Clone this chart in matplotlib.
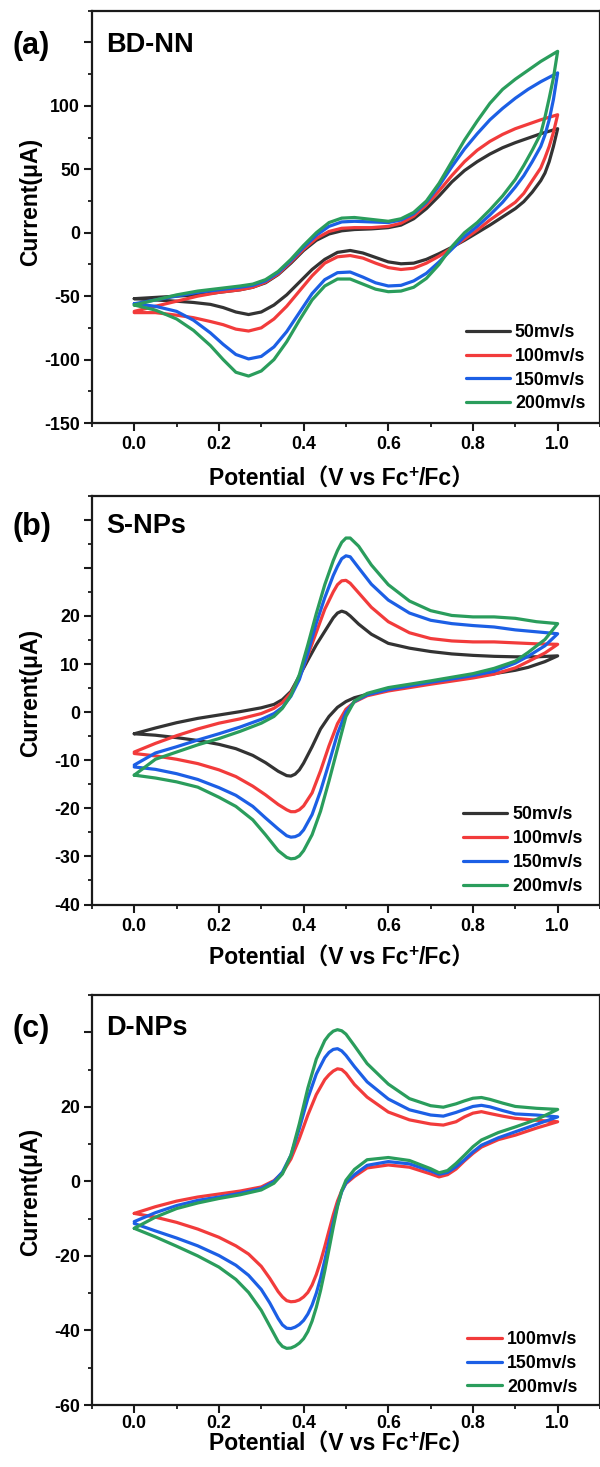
import matplotlib
matplotlib.use("Agg")
import matplotlib.pyplot as plt
from matplotlib.ticker import FixedLocator, FuncFormatter, MultipleLocator

plt.rcParams['font.family'] = ['Liberation Sans', 'Noto Sans CJK SC', 'DejaVu Sans']
plt.rcParams['font.weight'] = 'bold'

# ---------------- data ----------------
SCAN_LABELS = ["50mv/s", "100mv/s", "150mv/s", "200mv/s"]
SCAN_COLORS = ["#333333", "#f23b3b", "#1c5fe5", "#2a9d5c"]

# Panel (a) BD-NN
A_V_FWD = [0, 0.05, 0.1, 0.15, 0.2, 0.25, 0.28, 0.31, 0.34, 0.37, 0.4, 0.43, 0.46, 0.49,
           0.52, 0.56, 0.6, 0.63, 0.66, 0.69, 0.72, 0.75, 0.78, 0.81, 0.84, 0.87, 0.9, 0.93,
           0.96, 1.0]
A_50_FWD = [-52, -51, -50, -49, -47, -45, -43, -39.5, -33, -24, -14, -6, -1, 1.5, 2.5, 3, 4,
            6, 11, 19, 29, 40, 49, 56, 62, 67, 71, 74.5, 78, 82]
A_100_FWD = [-62, -58, -54, -50, -47, -45, -43, -39, -32.5, -23, -13, -4.5, 1, 3.5, 4, 4, 5,
             7.5, 13, 22, 33, 45, 56, 65, 72, 77.5, 82, 85.5, 89, 93]
A_150_FWD = [-56, -53, -50, -47, -45, -43, -41.5, -38, -31.5, -22, -11.5, -2, 5, 8.5, 9, 8.5,
             8, 10, 15, 24, 37, 52, 66, 78, 89, 98, 106, 113, 119, 126]
A_200_FWD = [-57, -53, -49, -46, -44, -42, -40.5, -37, -30.5, -21, -10, 0, 8, 11.5, 12, 10.5,
             9, 11, 16, 25, 39, 56, 73, 88, 102, 113, 121, 128, 135, 143]
A_V_REV = [1.0, 0.99, 0.98, 0.97, 0.96, 0.94, 0.92, 0.9, 0.87, 0.84, 0.81, 0.78, 0.75, 0.72,
           0.69, 0.66, 0.63, 0.6, 0.57, 0.54, 0.51, 0.48, 0.45, 0.42, 0.39, 0.36, 0.33, 0.3,
           0.27, 0.24, 0.21, 0.18, 0.14, 0.1, 0.05, 0.0]
A_50_REV = [82, 68, 56, 47, 41, 32, 24.5, 19, 12.5, 6, 0, -6, -11.5, -16.5, -21, -24, -24.5,
            -23, -19.5, -16, -14, -15.5, -21, -29, -39, -49, -57, -62.5, -64.5, -62.5, -59,
            -56.5, -55, -54, -53, -52]
A_100_REV = [93, 79, 68, 59, 51, 41, 31, 24, 17, 10, 2, -5, -12, -18.5, -24, -28, -29, -27.5,
             -24, -20, -18, -19, -24, -34, -46, -58, -68, -75, -77.5, -76, -72.5, -70, -67,
             -65, -63, -63]
A_150_REV = [126, 105, 89, 77, 68, 56, 45, 36, 24, 14, 5, -3, -13, -23, -32, -38, -41.5, -42,
             -39.5, -35, -31, -31.5, -37, -48, -63, -78, -90, -97.5, -99.5, -96, -88, -79,
             -69, -62, -58, -56]
A_200_REV = [143, 122, 106, 91, 78, 65, 53, 42, 29, 18, 8, 0, -11, -25, -36, -43, -46, -46.5,
             -44.5, -40.5, -36.5, -36.5, -42, -53, -69, -86, -100, -109, -113, -110, -100,
             -89, -77, -68, -61, -57]

# Panel (b) S-NPs
B_V_FWD = [0, 0.05, 0.1, 0.15, 0.2, 0.25, 0.3, 0.33, 0.35, 0.37, 0.39, 0.41, 0.43, 0.45,
           0.47, 0.48, 0.49, 0.5, 0.51, 0.53, 0.56, 0.6, 0.65, 0.7, 0.75, 0.8, 0.85, 0.9,
           0.95, 1.0]
B_50_FWD = [-4.5, -3.3, -2.2, -1.3, -0.6, 0.1, 0.9, 1.6, 2.6, 4.3, 7.5, 10.8, 14.0, 16.8,
            19.6, 20.6, 21.0, 20.7, 20.0, 18.3, 16.2, 14.3, 13.3, 12.6, 12.1, 11.8, 11.6,
            11.5, 11.5, 11.7]
B_100_FWD = [-8.3, -6.5, -4.9, -3.5, -2.3, -1.4, -0.3, 0.8, 2.0, 4.0, 7.2, 11.8, 16.6, 21.4,
             25.0, 26.5, 27.3, 27.4, 26.8, 24.8, 21.8, 18.8, 16.5, 15.3, 14.8, 14.6, 14.6,
             14.4, 14.2, 14.1]
B_150_FWD = [-11, -8.5, -7.2, -5.8, -4.5, -3.1, -1.5, -0.3, 1.0, 3.3, 6.8, 12.3, 18.5, 23.8,
             28.4, 30.3, 31.9, 32.5, 32.3, 30.0, 26.6, 23.3, 20.6, 19.1, 18.4, 18.0, 17.7,
             17.1, 16.7, 16.3]
B_200_FWD = [-13.1, -9.8, -8.3, -6.8, -5.5, -4.0, -2.3, -0.9, 0.8, 3.5, 7.8, 14.0, 20.5,
             26.5, 31.5, 33.6, 35.3, 36.2, 36.2, 34.5, 30.6, 26.5, 23.1, 21.1, 20.1, 19.8,
             19.8, 19.5, 18.8, 18.4]
B_V_REV = [1.0, 0.97, 0.93, 0.9, 0.85, 0.8, 0.7, 0.6, 0.55, 0.52, 0.5, 0.48, 0.46, 0.44,
           0.42, 0.4, 0.39, 0.38, 0.37, 0.36, 0.34, 0.31, 0.28, 0.24, 0.2, 0.15, 0.1, 0.05,
           0.0]
B_50_REV = [11.7, 10.5, 9.3, 8.7, 8.0, 7.4, 6.1, 4.8, 3.7, 3.0, 2.2, 1.0, -0.9, -3.5, -7.2,
            -10.6, -12.0, -12.9, -13.3, -13.2, -12.3, -10.5, -9.0, -7.6, -6.7, -5.9, -5.3,
            -4.8, -4.5]
B_100_REV = [14.1, 12.3, 10.5, 9.2, 7.9, 7.1, 5.8, 4.4, 3.4, 2.1, 0.6, -2.4, -7.0, -12.2,
             -16.8, -19.5, -20.3, -20.7, -20.7, -20.3, -19.2, -17.2, -15.4, -13.4, -12.0,
             -10.7, -9.8, -9.1, -8.6]
B_150_REV = [16.3, 13.8, 11.6, 10.2, 8.5, 7.6, 6.2, 4.7, 3.6, 2.2, 0.0, -4.5, -10.6, -16.4,
             -21.3, -24.5, -25.5, -25.9, -26.0, -25.7, -24.3, -22.0, -19.6, -17.3, -15.7,
             -14.0, -12.8, -11.9, -11.4]
B_200_REV = [18.4, 15.1, 12.4, 10.6, 9.1, 8.0, 6.5, 5.1, 3.9, 2.3, -0.9, -7.6, -14.3, -20.6,
             -25.5, -28.8, -29.9, -30.4, -30.5, -30.2, -28.8, -25.5, -22.4, -19.6, -17.7,
             -15.6, -14.5, -13.7, -13.1]

# Panel (c) D-NPs
C_V_FWD = [0, 0.05, 0.1, 0.15, 0.2, 0.25, 0.3, 0.33, 0.35, 0.37, 0.39, 0.41, 0.43, 0.45,
           0.46, 0.47, 0.48, 0.49, 0.5, 0.52, 0.55, 0.6, 0.65, 0.7, 0.73, 0.76, 0.78, 0.8,
           0.82, 0.84, 0.87, 0.9, 0.95, 1.0]
C_100_FWD = [-8.6, -6.8, -5.3, -4.2, -3.4, -2.6, -1.5, 0.2, 2.3, 6.0, 11.5, 17.8, 23.3, 27.3,
             28.6, 29.6, 30.2, 30.0, 29.0, 26.0, 22.6, 18.6, 16.5, 15.4, 15.1, 16.0, 17.3,
             18.3, 18.7, 18.2, 17.5, 16.9, 16.4, 16.0]
C_150_FWD = [-10.8, -8.4, -6.5, -5.1, -4.2, -3.2, -1.9, 0.0, 2.5, 7.0, 14.2, 22.3, 28.8,
             33.2, 34.6, 35.4, 35.6, 35.0, 33.8, 30.8, 26.7, 22.1, 19.2, 17.8, 17.5, 18.5,
             19.3, 20.1, 20.4, 20.0, 19.0, 18.1, 17.8, 17.3]
C_200_FWD = [-12.6, -9.6, -7.3, -5.8, -4.6, -3.6, -2.3, -0.5, 2.0, 7.0, 15.5, 25.0, 32.8,
             37.8, 39.3, 40.3, 40.7, 40.4, 39.5, 36.4, 31.6, 26.1, 22.2, 20.3, 19.9, 20.8,
             21.6, 22.3, 22.5, 22.0, 21.0, 20.1, 19.6, 19.3]
C_V_REV = [1.0, 0.95, 0.9, 0.86, 0.82, 0.8, 0.78, 0.76, 0.74, 0.72, 0.7, 0.65, 0.6, 0.55,
           0.52, 0.5, 0.49, 0.48, 0.47, 0.46, 0.45, 0.44, 0.43, 0.42, 0.41, 0.4, 0.39, 0.38,
           0.37, 0.36, 0.35, 0.34, 0.32, 0.3, 0.27, 0.24, 0.2, 0.15, 0.1, 0.05, 0.0]
C_100_REV = [16.0, 14.3, 12.4, 11.2, 9.2, 7.5, 5.5, 3.3, 1.8, 1.2, 2.0, 3.8, 4.4, 3.6, 1.3,
             -0.6, -2.5, -5.3, -9.0, -13.2, -17.5, -21.5, -25.0, -27.8, -29.8, -31.0, -31.8,
             -32.2, -32.3, -32.0, -31.0, -29.6, -26.0, -22.8, -19.5, -17.3, -15.0, -12.8,
             -11.0, -9.6, -8.6]
C_150_REV = [17.3, 15.3, 13.3, 11.7, 9.7, 7.9, 5.8, 3.9, 2.4, 1.9, 2.8, 4.7, 5.3, 4.3, 1.8,
             -0.4, -2.8, -6.4, -11.0, -16.0, -21.2, -26.0, -30.0, -33.2, -35.6, -37.3, -38.4,
             -39.1, -39.5, -39.4, -38.5, -36.8, -32.6, -29.0, -25.2, -22.5, -19.9, -17.3,
             -15.2, -13.3, -11.3]
C_200_REV = [19.3, 16.6, 14.6, 13.1, 11.1, 9.3, 7.0, 4.8, 2.9, 2.3, 3.4, 5.6, 6.4, 5.8, 3.2,
             0.3, -2.5, -6.8, -12.3, -18.2, -24.0, -29.3, -33.8, -37.5, -40.3, -42.2, -43.4,
             -44.2, -44.7, -44.8, -44.3, -43.0, -38.8, -34.6, -29.8, -26.3, -23.0, -20.0,
             -17.4, -14.9, -12.6]

X_TICKS = [0.0, 0.2, 0.4, 0.6, 0.8, 1.0]
X_MINOR = [-0.1, 0.1, 0.3, 0.5, 0.7, 0.9, 1.1]

# ---------------- figure ----------------
W, H = 600, 1467
fig = plt.figure(figsize=(W / 100, H / 100), dpi=100)


def fx(px):
    return px / W


def fy(py):
    return 1 - py / H


panels = [
    dict(top=10.7, bottom=423.0, ylim=(-150, 175), ymaj=50, ymin=25, ylabmax=100,
         letter="(a)", name="BD-NN", let_base=53.6, name_base=51.7,
         curves=[(A_V_FWD, A_50_FWD, A_V_REV, A_50_REV, 0),
                 (A_V_FWD, A_100_FWD, A_V_REV, A_100_REV, 1),
                 (A_V_FWD, A_150_FWD, A_V_REV, A_150_REV, 2),
                 (A_V_FWD, A_200_FWD, A_V_REV, A_200_REV, 3)],
         leg_x=466, leg_top=324, handlelen=2.45, xpad=4.0,
         ylab_y=202, xlab_base=486),
    dict(top=495.7, bottom=904.5, ylim=(-40, 45), ymaj=10, ymin=5, ylabmax=20,
         letter="(b)", name="S-NPs", let_base=535.3, name_base=533.3,
         curves=[(B_V_FWD, B_50_FWD, B_V_REV, B_50_REV, 0),
                 (B_V_FWD, B_100_FWD, B_V_REV, B_100_REV, 1),
                 (B_V_FWD, B_150_FWD, B_V_REV, B_150_REV, 2),
                 (B_V_FWD, B_200_FWD, B_V_REV, B_200_REV, 3)],
         leg_x=463, leg_top=806.5, handlelen=2.5, xpad=4.0,
         ylab_y=693, xlab_base=965),
    dict(top=995.0, bottom=1405.0, ylim=(-60, 50), ymaj=20, ymin=10, ylabmax=20,
         letter="(c)", name="D-NPs", let_base=1037, name_base=1035,
         curves=[(C_V_FWD, C_100_FWD, C_V_REV, C_100_REV, 1),
                 (C_V_FWD, C_150_FWD, C_V_REV, C_150_REV, 2),
                 (C_V_FWD, C_200_FWD, C_V_REV, C_200_REV, 3)],
         leg_x=467, leg_top=1331, handlelen=1.95, xpad=1.5,
         ylab_y=1192, xlab_base=1451),
]

LEFT_PX = 91.9
RIGHT_PX = 600.0
LINE_W = 2.3

for p in panels:
    ax = fig.add_axes([fx(LEFT_PX), fy(p["bottom"]), fx(RIGHT_PX - LEFT_PX),
                       (p["bottom"] - p["top"]) / H])
    handles = []
    labels = []
    for vf, i_f, vr, i_r, ci in p["curves"]:
        ln, = ax.plot(list(vf) + list(vr), list(i_f) + list(i_r),
                      color=SCAN_COLORS[ci], lw=LINE_W, solid_joinstyle='round',
                      solid_capstyle='round')
        handles.append(ln)
        labels.append(SCAN_LABELS[ci])
    ax.set_xlim(-0.1, 1.1)
    ax.set_ylim(*p["ylim"])
    ax.xaxis.set_major_locator(FixedLocator(X_TICKS))
    ax.xaxis.set_minor_locator(FixedLocator(X_MINOR))
    ax.xaxis.set_major_formatter(FuncFormatter(lambda v, pos: f"{v:.1f}"))
    ax.yaxis.set_major_locator(MultipleLocator(p["ymaj"]))
    ax.yaxis.set_minor_locator(MultipleLocator(p["ymin"]))
    lim = p["ylabmax"]
    ax.yaxis.set_major_formatter(FuncFormatter(
        lambda v, pos, lim=lim: (f"{int(round(v))}" if v <= lim + 1e-9 else "")))
    for s in ax.spines.values():
        s.set_linewidth(1.6)
        s.set_color("#1a1a1a")
    ax.tick_params(which='major', direction='out', length=5.5, width=1.5,
                   labelsize=12.8, color="#1a1a1a")
    ax.tick_params(which='minor', direction='out', length=3.0, width=1.3, color="#1a1a1a")
    ax.tick_params(axis='y', which='major', pad=3)
    ax.tick_params(axis='x', which='major', pad=p["xpad"])
    ax.tick_params(top=False, right=False, which='both')

    ax.legend(handles, labels, loc='upper left',
              bbox_to_anchor=(fx(p["leg_x"]), fy(p["leg_top"])),
              bbox_transform=fig.transFigure, frameon=False, borderpad=0,
              borderaxespad=0, handlelength=p["handlelen"], handletextpad=0.3,
              labelspacing=0.38, prop=dict(size=12.8, weight='bold'))

    fig.text(fx(12), fy(p["let_base"]), p["letter"], size=22, weight='bold',
             ha='left', va='baseline')
    fig.text(fx(106), fy(p["name_base"]), p["name"], size=19.5, weight='bold',
             ha='left', va='baseline')
    fig.text(fx(30.6), fy(p["ylab_y"]), "Current(μA)", size=16.5, weight='bold',
             rotation=90, ha='center', va='center')

# composite x labels with superscript "+"
renderer = fig.canvas.get_renderer()
for p in panels:
    kw = dict(weight='bold', va='baseline', ha='left')
    t1 = fig.text(0, 0, "Potential（V vs Fc", size=16.5, **kw)
    t2 = fig.text(0, 0, "+", size=12.5, **kw)
    t3 = fig.text(0, 0, "/Fc）", size=16.5, **kw)
    w1 = t1.get_window_extent(renderer).width
    w2 = t2.get_window_extent(renderer).width
    w3 = t3.get_window_extent(renderer).width
    x0 = 341.5 - (w1 + w2 + w3) / 2
    base = p["xlab_base"]
    t1.set_position((fx(x0), fy(base)))
    t2.set_position((fx(x0 + w1), fy(base - 9)))
    t3.set_position((fx(x0 + w1 + w2), fy(base)))

fig.savefig("out.png", dpi=100)
